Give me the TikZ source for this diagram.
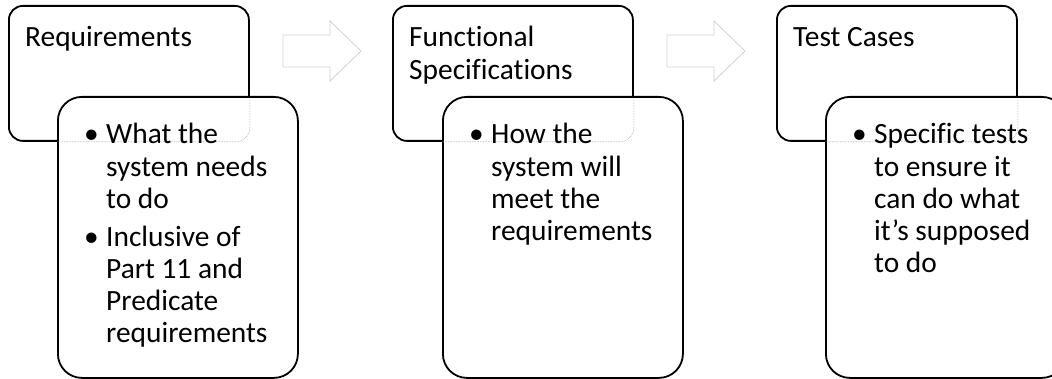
\documentclass[tikz,border=0pt]{standalone}
\usepackage{fontspec}
\setmainfont{Carlito}[Ligatures=NoCommon]
\usepackage{array}
\begin{document}
\begin{tikzpicture}[x=1pt,y=-1pt,
  topbox/.style={draw=black, line width=1.8pt, rounded corners=14pt, fill=white,
    minimum width=240pt, minimum height=135pt, inner sep=0pt, anchor=north west},
  lowbox/.style={draw=black, line width=1.8pt, rounded corners=24pt, fill=white,
    minimum width=240pt, minimum height=281pt, inner sep=0pt, anchor=north west},
  hidden/.style={draw=black!35, densely dotted, line width=0.6pt, rounded corners=14pt},
  flow/.style={draw=black!18, line width=0.8pt, fill=white, line join=miter},
  title/.style={anchor=base west, inner sep=0pt, align=left},
  bullets/.style={anchor=base west, inner sep=0pt}]
\useasboundingbox (0,0) rectangle (1052,379);
\clip (0,0) rectangle (1052,379);
\newcommand{\txtsize}{\fontsize{29.4}{32.2}\selectfont}
\newcommand{\blt}{\textbullet}

% arrows
\coordinate (a1) at (283,51);
\coordinate (a2) at (667,51);
\foreach \a in {a1,a2}{
  \draw[flow] (\a) ++(0,-16) -- ++(47,0) -- ++(0,-14) -- ++(31,30) -- ++(-31,30) -- ++(0,-14) -- ++(-47,0) -- cycle;
}

% group 1
\node[topbox] (t1) at (8,5) {};
\node[lowbox] (l1) at (57,96) {};
\begin{scope}
  \clip[rounded corners=24pt] (l1.north west) rectangle (l1.south east);
  \draw[hidden] (t1.north west) rectangle (t1.south east);
\end{scope}
\node[title] (t1txt) at (25,47) {\txtsize\begin{tabular}[t]{@{}l@{}}Requirements\end{tabular}};
\node[bullets] (l1txt) at (84,144) {\txtsize\begin{tabular}[t]{@{}p{22pt}@{}l@{}}
\blt & What the\\ & system needs\\ & to do\\[5.5pt]
\blt & Inclusive of\\ & Part 11 and\\ & Predicate\\ & requirements\end{tabular}};

% group 2
\node[topbox] (t2) at (392,5) {};
\node[lowbox] (l2) at (442,96) {};
\begin{scope}
  \clip[rounded corners=24pt] (l2.north west) rectangle (l2.south east);
  \draw[hidden] (t2.north west) rectangle (t2.south east);
\end{scope}
\node[title] (t2txt) at (409,47) {\txtsize\begin{tabular}[t]{@{}l@{}}Functional\\Specifications\end{tabular}};
\node[bullets] (l2txt) at (469,144) {\txtsize\begin{tabular}[t]{@{}p{22pt}@{}l@{}}
\blt & How the\\ & system will\\ & meet the\\ & requirements\end{tabular}};

% group 3
\node[topbox] (t3) at (776,5) {};
\node[lowbox] (l3) at (825,96) {};
\begin{scope}
  \clip[rounded corners=24pt] (l3.north west) rectangle (l3.south east);
  \draw[hidden] (t3.north west) rectangle (t3.south east);
\end{scope}
\node[title] (t3txt) at (793,47) {\txtsize\begin{tabular}[t]{@{}l@{}}Test Cases\end{tabular}};
\node[bullets] (l3txt) at (852,144) {\txtsize\begin{tabular}[t]{@{}p{22pt}@{}l@{}}
\blt & Specific tests\\ & to ensure it\\ & can do what\\ & it’s supposed\\ & to do\end{tabular}};
\end{tikzpicture}
\end{document}
